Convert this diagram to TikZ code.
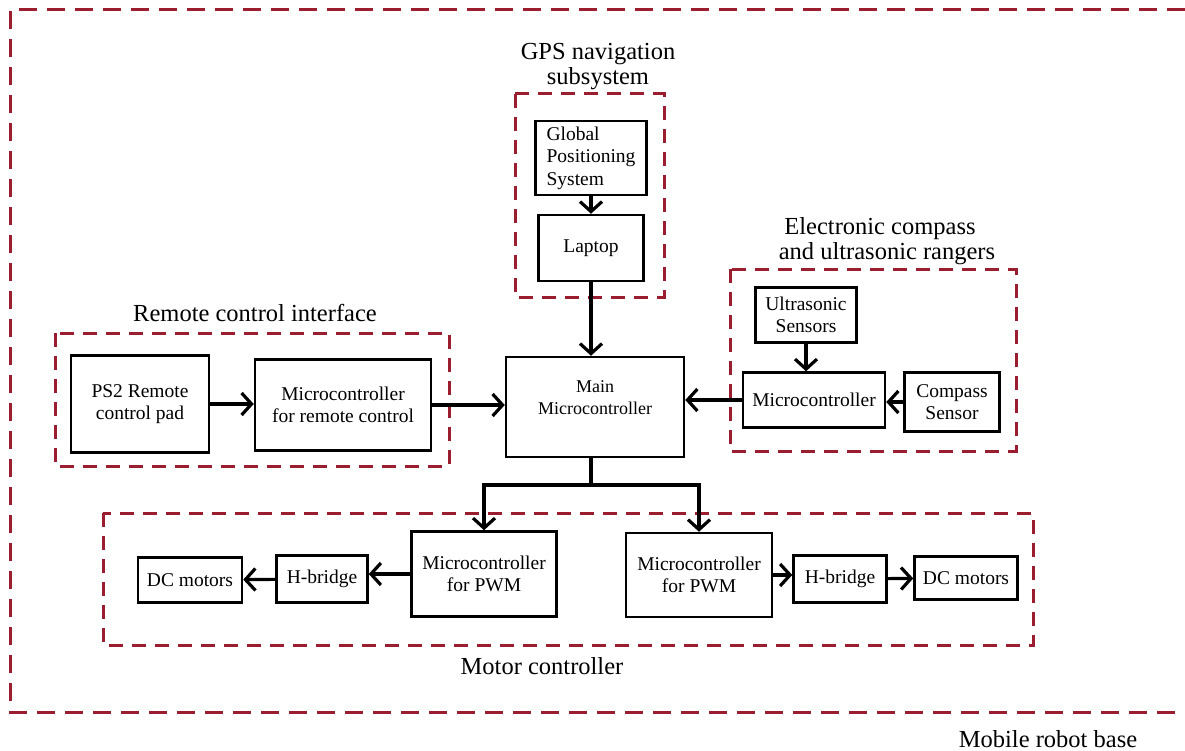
\documentclass[tikz,border=0pt]{standalone}
\usepackage{fontspec}
\setmainfont{Liberation Serif}
\usetikzlibrary{arrows.meta}

\definecolor{grpred}{RGB}{155,30,48}

\tikzset{
  blk/.style={draw, line width=2.5pt, inner sep=0pt, align=center,
    font=\fontsize{19.5}{22.5}\selectfont},
  grp/.style={draw=grpred, line width=3pt, dash pattern=on 14pt off 9pt},
  ttl/.style={align=center, font=\fontsize{24.5}{25}\selectfont},
  lnk/.style={line width=3.2pt, -{Straight Barb[length=10pt,width=22pt]}}
}

\begin{document}
\begin{tikzpicture}[x=1pt, y=-1pt]

  \useasboundingbox (0,0) rectangle (1185,751);

  % whole robot
  \draw[grp, dash pattern=on 18pt off 10pt]
  (1185,10) -- (10,10) -- (10,712) -- (1185,712);
  \node[ttl, anchor=base, inner sep=0pt] (base) at (1048,747) {Mobile robot base};

  % GPS navigation
  \draw[grp] (515,94) rectangle (664,297);
  \node[ttl] (gpsttl) at (598,67) {GPS navigation\\subsystem};
  \node[blk, minimum width=111pt, minimum height=74pt, align=left]
  (gps) at (591,158) {Global\\Positioning\\System};
  \node[blk, minimum width=105pt, minimum height=66pt] (laptop) at (591,248) {Laptop};

  % main
  \node[blk, minimum width=178pt, minimum height=100pt, text depth=18pt,
    font=\fontsize{18}{22}\selectfont]
  (main) at (595,407) {Main\\Microcontroller};

  % compass and ultrasonic
  \draw[grp] (730,269) rectangle (1016,451);
  \node[ttl] (cmpttl) at (880,241) {Electronic compass\\\hspace*{14pt}and ultrasonic rangers};
  \node[blk, minimum width=101pt, minimum height=55pt] (ultra) at (806,315) {Ultrasonic\\Sensors};
  \node[blk, minimum width=142pt, minimum height=55pt] (cmpmcu) at (814,400) {Microcontroller};
  \node[blk, minimum width=95pt, minimum height=59pt] (cmp) at (952,402) {Compass\\Sensor};

  % remote control
  \draw[grp] (55,333) rectangle (449,466);
  \node[ttl] (remttl) at (255,313) {Remote control interface};
  \node[blk, minimum width=138pt, minimum height=97pt] (ps2) at (140,404) {PS2 Remote\\control pad};
  \node[blk, minimum width=176pt, minimum height=91pt] (remmcu) at (343,405) {Microcontroller\\for remote control};

  % motors
  \draw[grp] (103,513) rectangle (1033,645);
  \node[ttl] (motttl) at (542,666) {Motor controller};
  \node[blk, minimum width=104pt, minimum height=45pt] (dcl) at (190,580) {DC motors};
  \node[blk, minimum width=91pt, minimum height=47pt] (hbl) at (322,579) {H-bridge};
  \node[blk, minimum width=145pt, minimum height=85pt] (pwml) at (484,574) {Microcontroller\\for PWM};
  \node[blk, minimum width=146pt, minimum height=84pt] (pwmr) at (699,575) {Microcontroller\\for PWM};
  \node[blk, minimum width=93pt, minimum height=47pt] (hbr) at (840,579) {H-bridge};
  \node[blk, minimum width=103pt, minimum height=43pt] (dcr) at (966,578) {DC motors};

  % links
  \draw[lnk] (gps) -- (laptop);
  \draw[lnk] (laptop) -- (laptop |- main.north);
  \draw[lnk] (ps2) -- (ps2 -| remmcu.west);
  \draw[lnk] (remmcu) -- (remmcu -| main.west);
  \draw[lnk] (ultra) -- (ultra |- cmpmcu.north);
  \draw[lnk] (cmp) -- (cmp -| cmpmcu.east);
  \draw[lnk] (cmpmcu) -- (cmpmcu -| main.east);

  \coordinate (split) at (591,485);
  \draw[line width=3.2pt] (split |- main.south) -- (split);
  \draw[lnk] (split) -| (pwml.north);
  \draw[lnk] (split) -| (pwmr.north);

  \draw[lnk] (pwml) -- (pwml -| hbl.east);
  \draw[lnk] (hbl) -- (dcl);
  \draw[lnk] (pwmr) -- (pwmr -| hbr.west);
  \draw[lnk] (hbr) -- (dcr);

\end{tikzpicture}
\end{document}
